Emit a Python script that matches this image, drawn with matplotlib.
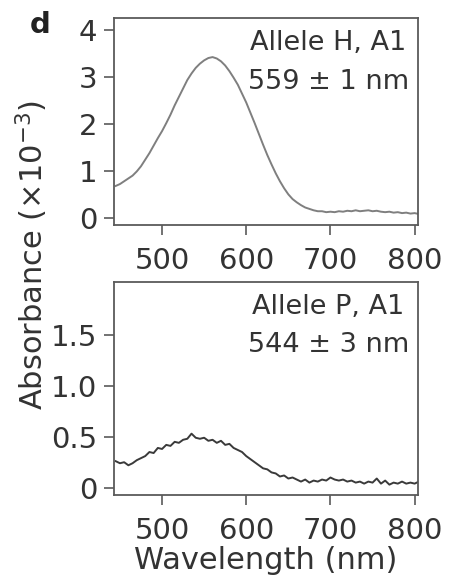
import matplotlib
matplotlib.use("Agg")
import matplotlib.pyplot as plt
import numpy as np

plt.rcParams["font.family"] = ["DejaVu Sans"]

# ── data ────────────────────────────────────────────────────────
wl = np.arange(445, 806, 5)

abs_h = [0.68, 0.72, 0.78, 0.84, 0.90, 0.99, 1.10, 1.24, 1.38, 1.54,
         1.70, 1.85, 2.02, 2.20, 2.40, 2.58, 2.76, 2.94, 3.08, 3.20,
         3.29, 3.36, 3.41, 3.43, 3.40, 3.34, 3.25, 3.13, 2.99, 2.84,
         2.65, 2.46, 2.24, 2.02, 1.79, 1.56, 1.34, 1.14, 0.95, 0.78,
         0.63, 0.50, 0.40, 0.33, 0.27, 0.22, 0.19, 0.16, 0.14, 0.14,
         0.12, 0.13, 0.12, 0.14, 0.13, 0.15, 0.14, 0.16, 0.14, 0.15,
         0.16, 0.14, 0.15, 0.13, 0.12, 0.13, 0.11, 0.12, 0.10, 0.11,
         0.09, 0.10, 0.08]

abs_p = [0.26, 0.24, 0.25, 0.22, 0.24, 0.27, 0.29, 0.31, 0.35, 0.34,
         0.39, 0.38, 0.42, 0.41, 0.45, 0.44, 0.47, 0.48, 0.53, 0.49,
         0.48, 0.49, 0.46, 0.47, 0.44, 0.46, 0.42, 0.43, 0.39, 0.37,
         0.35, 0.31, 0.28, 0.25, 0.22, 0.19, 0.18, 0.15, 0.14, 0.11,
         0.12, 0.09, 0.10, 0.08, 0.06, 0.08, 0.05, 0.07, 0.06, 0.08,
         0.07, 0.10, 0.08, 0.07, 0.08, 0.06, 0.07, 0.05, 0.06, 0.04,
         0.06, 0.05, 0.09, 0.04, 0.07, 0.03, 0.05, 0.04, 0.06, 0.04,
         0.05, 0.04, 0.06]

xticks = [500, 600, 700, 800]
yticks_h = [0, 1, 2, 3, 4]
ylabels_h = ["0", "1", "2", "3", "4"]
yticks_p = [0, 0.5, 1.0, 1.5]
ylabels_p = ["0", "0.5", "1.0", "1.5"]

TXT = "#333333"
SPINE = "#5a5a5a"

fig = plt.figure(figsize=(4.49, 5.87), dpi=100)
ax1 = fig.add_axes([0.254, 0.617, 0.677, 0.352])
ax2 = fig.add_axes([0.254, 0.157, 0.677, 0.363])


def style(ax):
    for s in ax.spines.values():
        s.set_color(SPINE)
        s.set_linewidth(1.3)
    ax.tick_params(direction="out", length=7, width=1.2, color=SPINE,
                   labelsize=21, labelcolor=TXT)
    ax.tick_params(axis="x", pad=9)
    ax.tick_params(axis="y", pad=5)
    ax.set_xlim(443, 804)
    ax.set_xticks(xticks)


# ── øvre panel ──────────────────────────────────────────────────
ax1.plot(wl, abs_h, color="#7f7f7f", lw=1.4)
style(ax1)
ax1.set_ylim(-0.15, 4.26)
ax1.set_yticks(yticks_h)
ax1.set_yticklabels(ylabels_h)
ax1.text(0.705, 0.879, "Allele H, A1", transform=ax1.transAxes,
         ha="center", va="center", fontsize=19.5, color=TXT)
ax1.text(0.705, 0.691, "559 \u00b1 1 nm", transform=ax1.transAxes,
         ha="center", va="center", fontsize=19.5, color=TXT)

# ── nedre panel ─────────────────────────────────────────────────
ax2.plot(wl, abs_p, color="#3a3a3a", lw=1.4)
style(ax2)
ax2.set_ylim(-0.07, 2.02)
ax2.set_yticks(yticks_p)
ax2.set_yticklabels(ylabels_p)
ax2.text(0.705, 0.883, "Allele P, A1", transform=ax2.transAxes,
         ha="center", va="center", fontsize=19.5, color=TXT)
ax2.text(0.705, 0.704, "544 \u00b1 3 nm", transform=ax2.transAxes,
         ha="center", va="center", fontsize=19.5, color=TXT)
ax2.set_xlabel("Wavelength (nm)", fontsize=22, color=TXT, labelpad=1)

fig.text(0.071, 0.566, "Absorbance (\u00d710$^{\u22123}$)", rotation=90,
         ha="center", va="center", fontsize=22, color=TXT)
fig.text(0.089, 0.957, "d", ha="center", va="center", fontsize=21,
         fontweight="bold", color="#222222")

fig.savefig("out.png", dpi=100, facecolor="white")
